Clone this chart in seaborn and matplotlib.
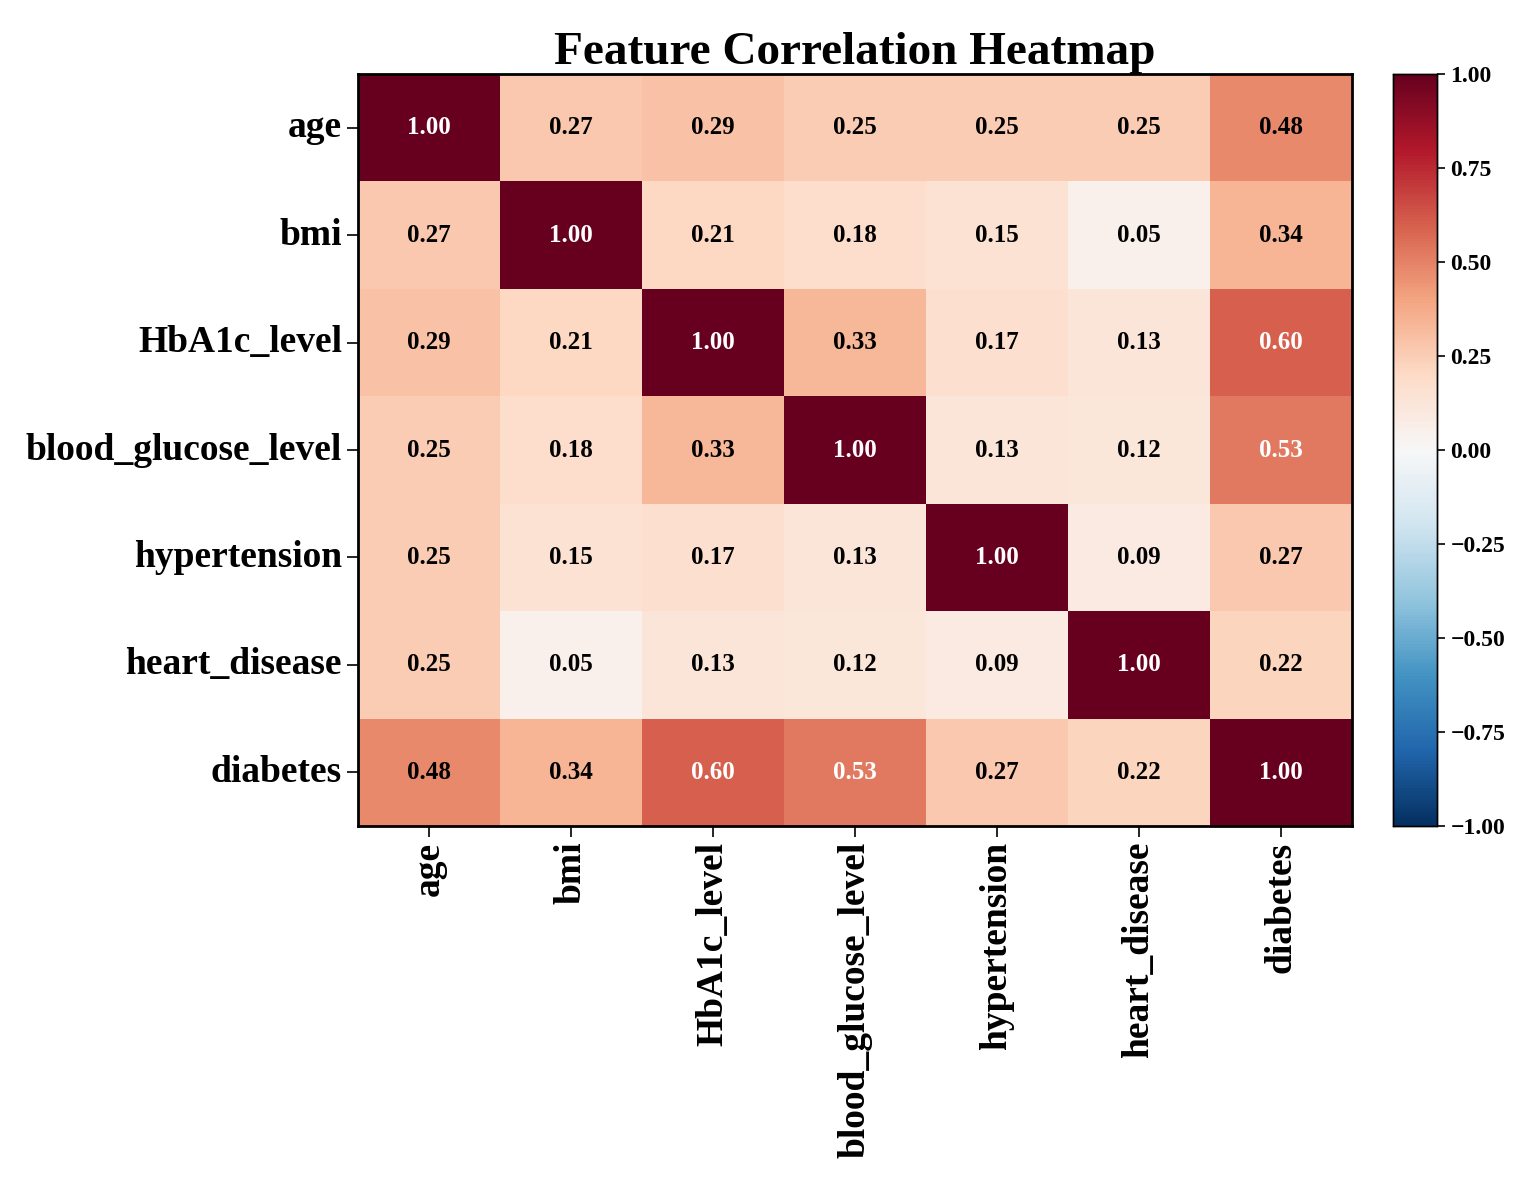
import numpy as np
import pandas as pd
import matplotlib
matplotlib.use("Agg")
import matplotlib.pyplot as plt
import seaborn as sns

## Rótulos das variáveis ##
features = ["age", "bmi", "HbA1c_level", "blood_glucose_level",
            "hypertension", "heart_disease", "diabetes"]

## Correlações (uma linha por variável) ##
age = [1.00, 0.27, 0.29, 0.25, 0.25, 0.25, 0.48]
bmi = [0.27, 1.00, 0.21, 0.18, 0.15, 0.05, 0.34]
hba1c = [0.29, 0.21, 1.00, 0.33, 0.17, 0.13, 0.60]
glucose = [0.25, 0.18, 0.33, 1.00, 0.13, 0.12, 0.53]
hypertension = [0.25, 0.15, 0.17, 0.13, 1.00, 0.09, 0.27]
heart = [0.25, 0.05, 0.13, 0.12, 0.09, 1.00, 0.22]
diabetes = [0.48, 0.34, 0.60, 0.53, 0.27, 0.22, 1.00]

cbar_ticks = [-1, -0.75, -0.5, -0.25, 0, 0.25, 0.5, 0.75, 1]

corr = pd.DataFrame([age, bmi, hba1c, glucose, hypertension, heart, diabetes],
                    index=features, columns=features)

plt.rcParams["font.family"] = ["Liberation Serif", "DejaVu Serif"]
plt.rcParams["font.weight"] = "bold"

fig = plt.figure(figsize=(15.3, 11.88), dpi=100)
ax = fig.add_axes([0.234, 0.3047, 0.6497, 0.633])
cax = fig.add_axes([0.9105, 0.3047, 0.0288, 0.633])

sns.heatmap(corr, ax=ax, cbar_ax=cax, cmap="RdBu_r", vmin=-1, vmax=1,
            annot=True, fmt=".2f",
            annot_kws={"fontsize": 18, "fontweight": "bold"})

## Cor do texto: branco só nas células mais escuras ##
for t in ax.texts:
    t.set_color("white" if float(t.get_text()) > 0.5 else "black")

## Moldura preta em volta do mapa ##
for s in ax.spines.values():
    s.set_visible(True)
    s.set_color("black")
    s.set_linewidth(2)
for s in cax.spines.values():
    s.set_visible(True)
    s.set_linewidth(1)

ax.set_title("Feature Correlation Heatmap", fontsize=34, fontweight="bold", pad=6)
ax.tick_params(axis="both", length=8, width=1.2, labelsize=27)
ax.set_xticklabels(features, rotation=90, fontsize=27, fontweight="bold")
ax.set_yticklabels(features, rotation=0, fontsize=27, fontweight="bold")

cax.set_yticks(cbar_ticks)
cax.set_yticklabels([f"{v:.2f}".replace("-", "\u2212") for v in cbar_ticks])
cax.tick_params(labelsize=17, length=6, width=1.2)
for t in cax.get_yticklabels():
    t.set_fontweight("bold")

fig.savefig("out.png", dpi=100)
